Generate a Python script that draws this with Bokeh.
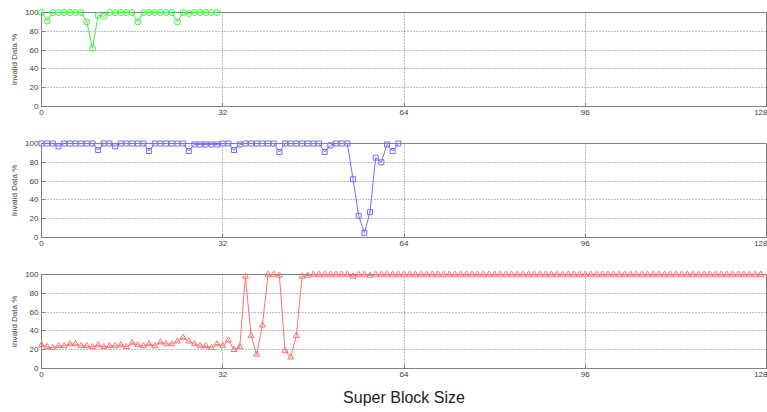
from bokeh.plotting import figure
from bokeh.layouts import column
from bokeh.models import FixedTicker
from bokeh.embed import file_html
from bokeh.resources import INLINE

# ---- data ----
green_x = list(range(32))
green_y = [100, 91, 100, 100, 100, 100, 100, 100, 90, 62, 97, 96, 100, 100, 100, 100,
           100, 90, 100, 100, 100, 100, 100, 100, 90, 100, 99, 100, 100, 100, 100, 100]

blue_x = list(range(64))
blue_y = [100, 100, 100, 97, 100, 100, 100, 100, 100, 100, 93, 100, 100, 97, 100, 100,
          100, 100, 100, 92, 100, 100, 100, 100, 100, 100, 92, 99, 99, 99, 99, 99,
          100, 100, 93, 99, 100, 100, 100, 100, 100, 100, 91, 100, 100, 100, 100, 100,
          100, 100, 91, 98, 100, 100, 100, 62, 23, 5, 27, 85, 80, 99, 92, 100]

red_x = list(range(128))
red_y = [25, 23, 22, 24, 24, 26, 26, 24, 24, 23, 25, 23, 24, 24, 25, 23,
         27, 25, 24, 26, 24, 28, 26, 26, 29, 33, 29, 26, 24, 24, 22, 26,
         24, 30, 20, 23, 98, 35, 15, 46, 100, 100, 99, 19, 12, 35, 98, 99] + \
        [100] * 7 + [98] + [100] * 2 + [99] + [100] * 69

x_ticks = [0, 32, 64, 96, 128]
y_ticks = [0, 20, 40, 60, 80, 100]
x_label = "Super Block Size"
y_label = "Invalid Data %"

FONT = "Liberation Sans"


def make_panel(xs, ys, color, marker, bottom, show_xlabel=False):
    p = figure(frame_width=725, frame_height=94, x_range=(0, 128), y_range=(0, 100),
               output_backend="svg", toolbar_location=None,
               min_border_left=41, min_border_right=1, min_border_top=12,
               min_border_bottom=bottom)
    p.line(xs, ys, line_color=color, line_width=1, level="overlay")
    if marker == "circle":
        p.scatter(xs, ys, marker="circle", size=6, fill_color=None, line_color=color,
                  line_width=1, level="overlay")
    elif marker == "square":
        p.scatter(xs, ys, marker="square", size=5, fill_color=None, line_color=color,
                  line_width=1, level="overlay")
    else:
        p.scatter(xs, ys, marker="triangle", size=6, fill_color=None, line_color=color,
                  line_width=1, level="overlay")
    p.xaxis.ticker = FixedTicker(ticks=x_ticks)
    p.yaxis.ticker = FixedTicker(ticks=y_ticks)
    for ax in (p.xaxis, p.yaxis):
        ax.major_tick_in = 4
        ax.major_tick_out = 0
        ax.minor_tick_line_color = None
        ax.axis_line_color = "#808080"
        ax.major_tick_line_color = "#808080"
        ax.major_label_text_font = FONT
        ax.major_label_text_font_size = "8px"
        ax.major_label_text_color = "#404040"
        ax.major_label_standoff = 3
    p.yaxis.axis_label = y_label
    p.yaxis.axis_label_text_font = FONT
    p.yaxis.axis_label_text_font_size = "8px"
    p.yaxis.axis_label_text_font_style = "normal"
    p.yaxis.axis_label_text_color = "#404040"
    p.yaxis.axis_label_standoff = 3
    if show_xlabel:
        p.xaxis.axis_label = x_label
        p.xaxis.axis_label_text_font = FONT
        p.xaxis.axis_label_text_font_size = "16px"
        p.xaxis.axis_label_text_font_style = "normal"
        p.xaxis.axis_label_text_color = "#222222"
        p.xaxis.axis_label_standoff = 9
    p.xgrid.ticker = FixedTicker(ticks=[32, 64, 96])
    p.ygrid.ticker = FixedTicker(ticks=[20, 40, 60, 80])
    for g in (p.xgrid, p.ygrid):
        g.grid_line_color = "#7a7a7a"
        g.grid_line_dash = "1 2"
        g.grid_line_width = 1
    p.outline_line_color = "#808080"
    p.background_fill_color = "white"
    p.border_fill_color = "white"
    return p


p1 = make_panel(green_x, green_y, "#44ee44", "circle", 25)
p2 = make_panel(blue_x, blue_y, "#6f6fff", "square", 25)
p3 = make_panel(red_x, red_y, "#ff6f6f", "triangle", 44, show_xlabel=True)

layout = column(p1, p2, p3, spacing=0)

open("out.html", "w").write(file_html(layout, INLINE))
